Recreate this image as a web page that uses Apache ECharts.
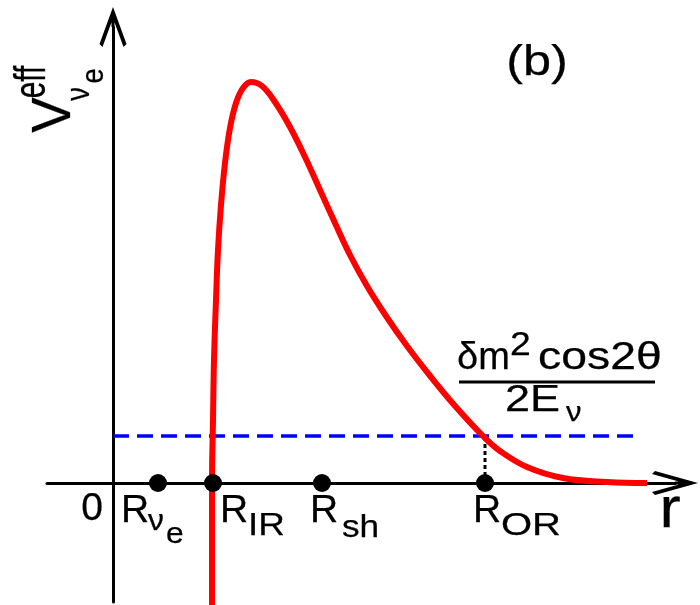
<!DOCTYPE html>
<html>
<head>
<meta charset="utf-8">
<script src="https://cdn.jsdelivr.net/npm/echarts@6/dist/echarts.min.js"></script>
<style>
  html, body { margin: 0; padding: 0; background: #fff; }
  #chart { width: 700px; height: 605px; }
</style>
</head>
<body>
<div id="chart"></div>
<script>
// effective potential curve (r, V)
const curveR = [0.99, 0.99, 0.99, 1.00, 1.01, 1.03, 1.05, 1.08, 1.12, 1.17, 1.23, 1.30, 1.38, 1.49, 1.62, 1.77,
  1.92, 2.07, 2.22, 2.37, 2.54, 2.73, 2.94, 3.18, 3.43, 3.70, 3.87, 4.14, 4.50, 4.94, 5.34];
const curveV = [-1.25, -0.60, 0.00, 0.63, 1.23, 1.83, 2.33, 2.78, 3.20, 3.55, 3.80, 3.95, 4.01, 3.97, 3.81, 3.56,
  3.26, 2.93, 2.60, 2.28, 1.97, 1.67, 1.37, 1.06, 0.76, 0.47, 0.32, 0.16, 0.05, 0.01, 0.00];
// radii marked on the r axis
const markerR = [0.45, 1.00, 2.09, 3.72];
// resonance level dm^2 cos2θ / 2E and where the dashed line stops
const level = 0.47;
const levelEnd = 5.22;

const FONT = '"Liberation Sans", Arial, Helvetica, sans-serif';

// open arrow head (pointing up) with a short shaft, used as axis end symbol
function chevron(w, h, t) {
  const s = (w / 2 - 1.5 * t) / (w / 2);
  const yD = h - s * (h - t);
  const p = [
    [w / 2, 0], [w, h - t], [w - t, h], [w / 2 + t / 2, yD], [w / 2 + t / 2, h / 2],
    [w / 2 - t / 2, h / 2], [w / 2 - t / 2, yD], [t, h], [0, h - t]
  ];
  return 'path://M' + p.map(q => q[0].toFixed(2) + ' ' + q[1].toFixed(2)).join(' L') + ' Z';
}

// text piece; sx stretches it horizontally like the original lettering
function txt(text, x, y, size, sx, align, extra) {
  return Object.assign({
    type: 'text', x: x, y: y, silent: true, scaleX: sx,
    style: {
      text: text, fontSize: size, fontFamily: FONT, fill: '#000',
      stroke: '#000', lineWidth: 0.25,
      align: align || 'left', verticalAlign: 'middle'
    }
  }, extra || {});
}
// rotated piece for the y axis name (reads bottom to top)
function vtxt(text, x, y, size, sx) {
  return txt(text, x, y, size, sx, 'center', { rotation: Math.PI / 2 });
}

let chart = echarts.init(document.getElementById('chart'));

let option = {
  animation: false,
  backgroundColor: '#fff',
  grid: { left: 47, right: 25, top: 27, bottom: 3 },
  xAxis: {
    type: 'value', min: -0.66, max: 5.62,
    axisLine: { onZero: true, lineStyle: { color: '#000', width: 3 }, symbol: ['none', chevron(24, 46, 3)], symbolSize: [24, 46] },
    axisTick: { show: false }, axisLabel: { show: false }, splitLine: { show: false }
  },
  yAxis: {
    type: 'value', min: -1.19, max: 4.56,
    axisLine: { onZero: true, lineStyle: { color: '#000', width: 3 }, symbol: ['none', chevron(27, 40, 3)], symbolSize: [27, 40] },
    axisTick: { show: false }, axisLabel: { show: false }, splitLine: { show: false }
  },
  series: [
    {
      type: 'line', z: 2, showSymbol: false, silent: true,
      data: [[0, level], [levelEnd, level]],
      lineStyle: { color: '#0000ff', width: 3.5, type: [16, 8] }
    },
    {
      type: 'line', z: 2, showSymbol: false, silent: true,
      data: [[markerR[3], 0], [markerR[3], level]],
      lineStyle: { color: '#000', width: 3, type: [4, 3] }
    },
    {
      type: 'line', z: 3, showSymbol: false, smooth: 0.4, silent: true,
      data: curveR.map((r, i) => [r, curveV[i]]),
      lineStyle: { color: '#ff0000', width: 6 }
    },
    {
      type: 'scatter', z: 5, symbolSize: 18, silent: true,
      itemStyle: { color: '#000', opacity: 1 },
      data: markerR.map(r => [r, 0])
    }
  ],
  graphic: {
    elements: [
      // y axis name V_{νe}^{eff}
      vtxt('V', 55, 115, 56, 0.95),
      vtxt('eff', 33, 82, 44, 0.68),
      vtxt('ν', 80, 94, 34, 0.8),
      vtxt('e', 94, 76, 32, 0.85),
      // panel tag
      txt('(b)', 537, 63, 42, 1.2, 'center'),
      // origin and axis name
      txt('0', 92, 509, 39, 1.0, 'center'),
      txt('r', 670, 511, 58, 1.1, 'center'),
      // radii labels
      txt('R', 121, 511, 39, 1.0), txt('ν', 148, 522, 29, 1.1), txt('e', 166, 535, 29, 1.1),
      txt('R', 220, 511, 39, 1.0), txt('IR', 248, 526, 32, 1.15),
      txt('R', 310, 511, 39, 1.0), txt('sh', 342, 528, 32, 1.1),
      txt('R', 473, 511, 39, 1.0), txt('OR', 501, 526, 32, 1.25),
      // resonance level label as a fraction
      txt('δm', 457, 359, 38, 1.0), txt('2', 510, 346, 34, 1.1), txt('cos2θ', 538, 359, 38, 1.22),
      { type: 'line', silent: true, shape: { x1: 459, y1: 382, x2: 655, y2: 382 }, style: { stroke: '#000', lineWidth: 3 } },
      txt('2E', 505, 401, 36, 1.25), txt('ν', 566, 414, 27, 1.15)
    ]
  }
};

chart.setOption(option);
</script>
</body>
</html>
